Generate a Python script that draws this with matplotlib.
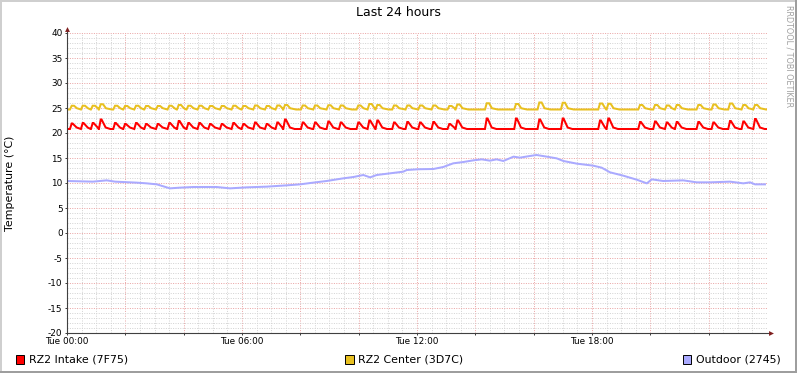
import matplotlib
matplotlib.use("Agg")
import matplotlib.pyplot as plt
from matplotlib.patches import Rectangle
from matplotlib.ticker import MultipleLocator, FuncFormatter, FixedLocator

plt.rcParams["axes.unicode_minus"] = False

# ---------------- data (hours since Tue 00:00, °C) ----------------
spike_t = [0.161, 0.538, 0.881, 1.155, 1.646, 1.989, 2.366, 2.709, 3.110, 3.507,
           3.830, 4.159, 4.536, 4.903, 5.304, 5.702, 6.045, 6.446, 6.847, 7.210,
           7.474, 8.081, 8.503, 8.959, 9.384, 9.987, 10.365, 10.639, 11.211, 11.667,
           12.103, 12.559, 13.107, 13.382, 14.390, 15.394, 16.193, 16.995, 18.274, 18.559,
           19.646, 20.160, 20.561, 20.904, 21.645, 22.159, 22.731, 23.187, 23.589]
intake_peak = [21.9, 22.0, 22.0, 22.7, 22.0, 21.8, 22.0, 21.8, 21.8, 22.0,
               22.4, 22.0, 22.0, 21.8, 21.8, 22.0, 21.8, 22.1, 21.8, 22.1,
               22.7, 22.1, 22.1, 22.3, 22.1, 22.1, 22.5, 22.5, 22.1, 22.2,
               22.1, 22.2, 21.8, 22.5, 22.9, 22.9, 22.7, 22.9, 22.5, 22.9,
               22.2, 22.3, 22.1, 22.2, 22.2, 22.1, 22.4, 22.3, 22.8]
center_peak = [25.45, 25.45, 25.45, 25.75, 25.45, 25.4, 25.45, 25.4, 25.4, 25.45,
               25.6, 25.45, 25.45, 25.4, 25.4, 25.45, 25.4, 25.5, 25.4, 25.5,
               25.6, 25.5, 25.5, 25.55, 25.5, 25.5, 25.8, 25.6, 25.5, 25.5,
               25.5, 25.5, 25.4, 25.7, 25.95, 25.8, 26.1, 26.05, 25.9, 25.85,
               25.6, 25.6, 25.5, 25.6, 25.6, 25.7, 25.9, 25.6, 25.6]
intake_base = 20.8
center_base = 24.7

outdoor_t = [0.0, 0.89, 1.36, 1.65, 2.39, 2.73, 3.08, 3.53, 3.87, 4.33,
             5.13, 5.59, 6.16, 6.85, 7.53, 7.99, 8.44, 8.90, 9.47, 9.82,
             10.16, 10.39, 10.62, 11.07, 11.53, 11.65, 12.04, 12.56, 12.90, 13.24,
             13.59, 13.93, 14.22, 14.50, 14.73, 14.96, 15.31, 15.53, 15.87, 16.10,
             16.45, 16.79, 17.02, 17.48, 18.04, 18.33, 18.62, 19.07, 19.53, 19.88,
             20.05, 20.44, 21.13, 21.59, 22.05, 22.73, 23.19, 23.42, 23.59, 23.93]
outdoor_v = [10.4, 10.27, 10.53, 10.27, 10.07, 9.93, 9.73, 8.93, 9.07, 9.2,
             9.2, 8.93, 9.13, 9.27, 9.53, 9.73, 10.07, 10.4, 10.93, 11.2,
             11.6, 11.13, 11.6, 11.93, 12.27, 12.6, 12.75, 12.8, 13.2, 13.93,
             14.2, 14.53, 14.73, 14.47, 14.73, 14.4, 15.27, 15.07, 15.4, 15.6,
             15.27, 14.93, 14.4, 13.87, 13.47, 13.07, 12.13, 11.47, 10.67, 9.93,
             10.73, 10.4, 10.53, 10.13, 10.13, 10.27, 9.93, 10.13, 9.73, 9.73]

series_names = ["RZ2 Intake (7F75)", "RZ2 Center (3D7C)", "Outdoor (2745)"]
series_colors = ["#FF0000", "#E8C020", "#AAAAFF"]
x_tick_hours = [0, 6, 12, 18]
title = "Last 24 hours"
y_label = "Temperature (°C)"
watermark = "RRDTOOL / TOBI OETIKER"


def spike_trace(times, peaks, base, rise, hold, drop, tail, drop_level):
    xs, ys = [0.0], [base]
    for i, (t, p) in enumerate(zip(times, peaks)):
        nxt = times[i + 1] - rise - 0.01 if i + 1 < len(times) else 24.0
        xs += [max(t - rise, xs[-1]), t, t + hold]
        ys += [base, p, p]
        xd = min(t + hold + drop, nxt)
        xe = min(t + hold + drop + tail, nxt)
        xs += [xd, xe]
        ys += [base + drop_level, base]
    xs.append(24.0)
    ys.append(base)
    return xs, ys


W, H, DPI = 797, 373, 100
fig = plt.figure(figsize=(W / DPI, H / DPI), dpi=DPI, facecolor="white")
L, R, T, B = 67, 767, 33, 333
ax = fig.add_axes([L / W, 1 - B / H, (R - L) / W, (B - T) / H])
ax.set_facecolor("white")
ax.set_xlim(0, 24)
ax.set_ylim(-20, 40)

# grid
ax.xaxis.set_major_locator(FixedLocator(list(range(0, 24, 2))))
ax.xaxis.set_minor_locator(MultipleLocator(0.5))
ax.yaxis.set_major_locator(MultipleLocator(5))
ax.yaxis.set_minor_locator(MultipleLocator(1))
ax.grid(which="minor", color="#d4d4d4", linestyle=(0, (1, 1.4)), linewidth=0.72)
ax.grid(which="major", color="#eaa6a6", linestyle=(0, (1, 1.4)), linewidth=0.72)
ax.set_axisbelow(True)

ax.xaxis.set_major_formatter(FuncFormatter(
    lambda v, p: ("Tue %02d:00" % int(round(v))) if int(round(v)) in x_tick_hours else ""))
ax.tick_params(which="minor", length=0)
ax.tick_params(which="major", length=1.6, width=0.72, color="#404040",
               labelsize=6.4, pad=1.6, labelcolor="black")

for s in ax.spines.values():
    s.set_visible(False)

# data lines
xs, ys = spike_trace(spike_t, center_peak, center_base, 0.06, 0.08, 0.1, 0.2, 0.25)
ax.plot(xs, ys, color=series_colors[1], lw=1.45, solid_joinstyle="miter", zorder=3)
xs, ys = spike_trace(spike_t, intake_peak, intake_base, 0.06, 0.03, 0.14, 0.16, 0.3)
ax.plot(xs, ys, color=series_colors[0], lw=1.45, solid_joinstyle="miter", zorder=4)
ax.plot(outdoor_t, outdoor_v, color=series_colors[2], lw=1.45, zorder=3)

# axes with arrows
axis_col = "#404040"
arrow_col = "#7F1F1F"
ax.plot([0, 1 + 3 / 700], [0, 0], transform=ax.transAxes, color=axis_col,
        lw=0.8, clip_on=False, zorder=5)
ax.plot([0, 0], [0, 1 + 3 / 300], transform=ax.transAxes, color=axis_col,
        lw=0.8, clip_on=False, zorder=5)
ax.plot([1 + 4 / 700], [0], transform=ax.transAxes, marker=">", color=arrow_col,
        markersize=3.5, clip_on=False, zorder=6, markeredgewidth=0)
ax.plot([0], [1 + 4 / 300], transform=ax.transAxes, marker="^", color=arrow_col,
        markersize=3.5, clip_on=False, zorder=6, markeredgewidth=0)

# texts
fig.text(0.5, 1 - 13 / H, title, ha="center", va="center", fontsize=9)
fig.text(10.5 / W, 1 - 183 / H, y_label, rotation=90, ha="center", va="center",
         fontsize=7.9)
fig.text(789 / W, 1 - 5 / H, watermark, rotation=270, ha="center", va="top",
         fontsize=5.8, color="#a0a0a0")

# legend
legend_box_x = [15.5, 345, 682.5]
for bx, name, col in zip(legend_box_x, series_names, series_colors):
    fig.patches.append(Rectangle((bx / W, 1 - 363.5 / H), 8.5 / W, 8.5 / H,
                                 transform=fig.transFigure, facecolor=col,
                                 edgecolor="black", linewidth=0.7))
    fig.text((bx + 13) / W, 1 - 359 / H, name, ha="left", va="center", fontsize=7.9)

# frame (shade)
fig.patches.append(Rectangle((0, 1 - 2 / H), 1, 2 / H, transform=fig.transFigure,
                             facecolor="#cfcfcf", edgecolor="none"))
fig.patches.append(Rectangle((0, 0), 2 / W, 1, transform=fig.transFigure,
                             facecolor="#cfcfcf", edgecolor="none"))
fig.patches.append(Rectangle((0, 0), 1, 2 / H, transform=fig.transFigure,
                             facecolor="#9e9e9e", edgecolor="none"))
fig.patches.append(Rectangle((1 - 2 / W, 0), 2 / W, 1, transform=fig.transFigure,
                             facecolor="#9e9e9e", edgecolor="none"))

fig.savefig("out.png", dpi=DPI, facecolor="white")
